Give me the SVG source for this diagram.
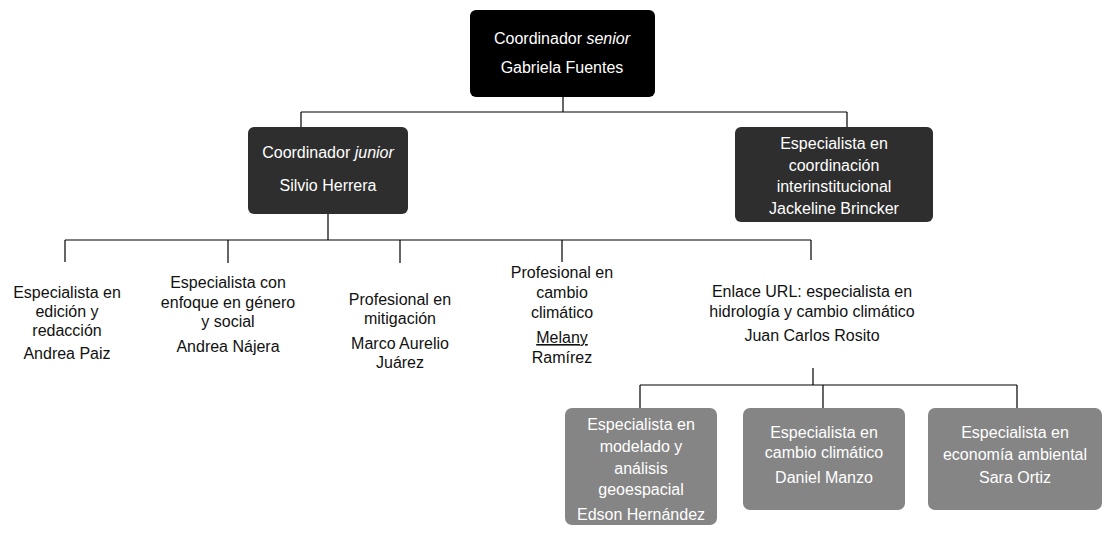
<svg xmlns="http://www.w3.org/2000/svg" width="1104" height="534" viewBox="0 0 1104 534">
<style>
text{font-family:"Liberation Sans",Arial,sans-serif;font-size:16px;text-anchor:middle;}
.w{fill:#ffffff;}
.k{fill:#111111;}
.top{fill:#000000;}
.dark{fill:#2e2e2e;}
.mid{fill:#858585;}
.c{fill:none;stroke:#000;stroke-width:1.2;}
</style>
<rect width="1104" height="534" fill="#ffffff"/>
<g id="connectors">
<path class="c" d="M563 97V112M301 112H847M301 112V127M847 112V127"/>
<path class="c" d="M328 214V240M65 240H811M65 240V262M228 240V263M400 240V263M562 240V262M811 240V260"/>
<path class="c" d="M813 368V385M640 385H1017M640 385V408M823 385V408M1017 385V408"/>
</g>
<g id="n-gabriela">
<rect class="top" x="470" y="10" width="185" height="87" rx="6"/>
<text class="w" x="562" y="44">Coordinador <tspan font-style="italic">senior</tspan></text>
<text class="w" x="562" y="73">Gabriela Fuentes</text>
</g>
<g id="n-silvio">
<rect class="dark" x="248" y="127" width="160" height="87" rx="6"/>
<text class="w" x="328" y="158">Coordinador <tspan font-style="italic">junior</tspan></text>
<text class="w" x="328" y="191">Silvio Herrera</text>
</g>
<g id="n-jackeline">
<rect class="dark" x="735" y="127" width="198" height="95" rx="6"/>
<text class="w" x="834" y="149">Especialista en</text>
<text class="w" x="834" y="171">coordinación</text>
<text class="w" x="834" y="192">interinstitucional</text>
<text class="w" x="834" y="214">Jackeline Brincker</text>
</g>
<g id="n-andrea-paiz">
<text class="k" x="67" y="298">Especialista en</text>
<text class="k" x="67" y="317">edición y</text>
<text class="k" x="67" y="336">redacción</text>
<text class="k" x="67" y="359">Andrea Paiz</text>
</g>
<g id="n-andrea-najera">
<text class="k" x="228" y="288">Especialista con</text>
<text class="k" x="228" y="308">enfoque en género</text>
<text class="k" x="228" y="327">y social</text>
<text class="k" x="228" y="352">Andrea Nájera</text>
</g>
<g id="n-marco">
<text class="k" x="400" y="305">Profesional en</text>
<text class="k" x="400" y="324">mitigación</text>
<text class="k" x="400" y="349">Marco Aurelio</text>
<text class="k" x="400" y="368">Juárez</text>
</g>
<g id="n-melany">
<text class="k" x="562" y="278">Profesional en</text>
<text class="k" x="562" y="298">cambio</text>
<text class="k" x="562" y="318">climático</text>
<text class="k" x="562" y="343" text-decoration="underline">Melany</text>
<text class="k" x="562" y="363">Ramírez</text>
</g>
<g id="n-juan">
<text class="k" x="812" y="297">Enlace URL: especialista en</text>
<text class="k" x="812" y="317">hidrología y cambio climático</text>
<text class="k" x="812" y="341">Juan Carlos Rosito</text>
</g>
<g id="n-edson">
<rect class="mid" x="565" y="408" width="152" height="117" rx="7"/>
<text class="w" x="641" y="430">Especialista en</text>
<text class="w" x="641" y="452">modelado y</text>
<text class="w" x="641" y="474">análisis</text>
<text class="w" x="641" y="495">geoespacial</text>
<text class="w" x="641" y="520">Edson Hernández</text>
</g>
<g id="n-daniel">
<rect class="mid" x="743" y="408" width="162" height="102" rx="7"/>
<text class="w" x="824" y="438">Especialista en</text>
<text class="w" x="824" y="458">cambio climático</text>
<text class="w" x="824" y="483">Daniel Manzo</text>
</g>
<g id="n-sara">
<rect class="mid" x="928" y="408" width="174" height="102" rx="7"/>
<text class="w" x="1015" y="438">Especialista en</text>
<text class="w" x="1015" y="460">economía ambiental</text>
<text class="w" x="1015" y="483">Sara Ortiz</text>
</g>
</svg>
